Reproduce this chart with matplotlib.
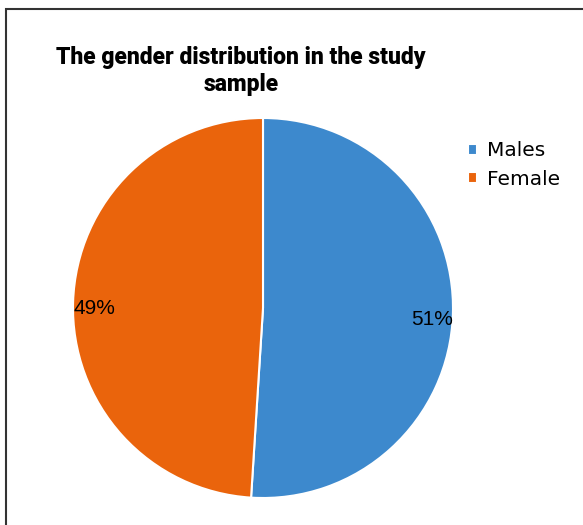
import matplotlib
matplotlib.use('Agg')
import matplotlib.pyplot as plt
from matplotlib.patches import Rectangle

plt.rcParams['font.family'] = ['Liberation Sans', 'DejaVu Sans']

# data
labels = ['Males', 'Female']
shares = [51, 49]
colors = ['#3d89cd', '#ea640c']

fig = plt.figure(figsize=(5.83, 5.25), dpi=100)

# chart frame (only top and left edges visible in the reference)
fig.patches.append(Rectangle((6 / 583, -0.1), 1.2, (525 - 9) / 525 + 0.1,
                             transform=fig.transFigure, fill=False,
                             edgecolor='#333333', linewidth=1.5))

ax = fig.add_axes([73 / 583, 27 / 525, 380 / 583, 380 / 525])
wedges, texts, autotexts = ax.pie(
    shares, colors=colors, startangle=90, counterclock=False,
    autopct='%d%%', pctdistance=0.89,
    wedgeprops=dict(edgecolor='white', linewidth=1.5),
    textprops=dict(fontsize=15, color='black'))
# labels sit a little lower in the original
for t in autotexts:
    x, y = t.get_position()
    t.set_position((x, y - 0.03))
ax.set_xlim(-1, 1)
ax.set_ylim(-1, 1)
ax.set_aspect('equal')

fig.text(241 / 583, 1 - 71 / 525, 'The gender distribution in the study\nsample',
         ha='center', va='center', fontsize=16.5, fontweight='heavy',
         family='Roboto', linespacing=1.2)

fig.legend(wedges, labels, loc='center left',
           bbox_to_anchor=(450 / 583, 1 - 165 / 525), frameon=False,
           prop=dict(family='DejaVu Sans', size=14.5),
           handlelength=0.45, handleheight=0.45,
           handletextpad=0.5, labelspacing=0.45)

plt.savefig('out.png', dpi=100)
